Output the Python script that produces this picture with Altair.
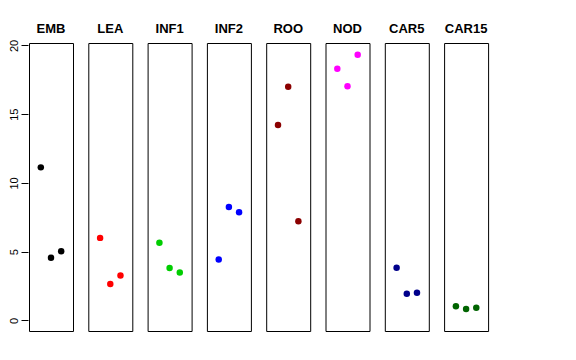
import altair as alt
import pandas as pd

tissues = ["EMB", "LEA", "INF1", "INF2", "ROO", "NOD", "CAR5", "CAR15"]
colors = ["#000000", "#FF0000", "#00CD00", "#0000FF", "#8B0000", "#FF00FF", "#00008B", "#006400"]
emb = [11.13, 4.55, 5.03]
lea = [6.0, 2.64, 3.27]
inf1 = [5.64, 3.8, 3.48]
inf2 = [4.43, 8.25, 7.86]
roo = [14.22, 17.0, 7.21]
nod = [18.31, 17.03, 19.33]
car5 = [3.82, 1.94, 2.01]
car15 = [1.02, 0.82, 0.92]
replicate = [1, 2, 3]

series = [emb, lea, inf1, inf2, roo, nod, car5, car15]
rows = []
for t, vals in zip(tissues, series):
    for r, v in zip(replicate, vals):
        rows.append({"tissue": t, "rep": r, "value": v})
df = pd.DataFrame(rows)

base = alt.Chart(df).mark_circle(size=42, opacity=1).encode(
    x=alt.X("rep:Q", scale=alt.Scale(domain=[-0.16, 4.16], nice=False, zero=False), axis=None),
    y=alt.Y("value:Q", scale=alt.Scale(domain=[-0.776, 20.18], nice=False, zero=False),
            axis=alt.Axis(values=[0, 5, 10, 15, 20], title=None, grid=False, labelAngle=270,
                          labelFontSize=11, labelColor="black", tickColor="black", tickSize=7,
                          labelPadding=2, domain=False, labelFont="Liberation Sans")),
    color=alt.Color("tissue:N", scale=alt.Scale(domain=tissues, range=colors), legend=None),
).properties(width=44, height=288)

chart = base.facet(
    column=alt.Column("tissue:N", sort=tissues,
                      header=alt.Header(title=None, labelFontWeight="bold", labelFontSize=13,
                                        labelFont="Liberation Sans", labelColor="black",
                                        labelPadding=6)),
    spacing=13.3,
).configure_view(stroke="black", strokeWidth=1).properties(
    padding={"left": 0, "top": 15, "right": 5, "bottom": 5}
)

chart.save("out.html", embed_options={"renderer": "svg", "actions": False})
